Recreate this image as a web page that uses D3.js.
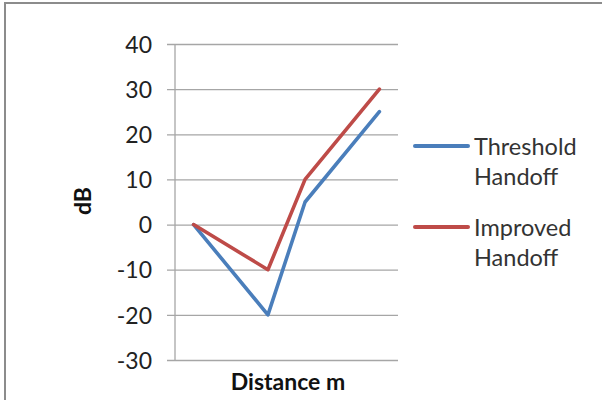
<!DOCTYPE html>
<html>
<head>
<meta charset="utf-8">
<script src="https://cdn.jsdelivr.net/npm/d3@7"></script>
<style>
  html, body { margin: 0; padding: 0; background: #fff; }
  svg { display: block; }
  text { font-family: Lato, "Open Sans", "Liberation Sans", sans-serif; fill: #222; }
</style>
</head>
<body>
<svg id="chart" width="602" height="400"></svg>
<script>
// Six distance slots; slots without a reading are left empty and the line bridges them.
const categories = ["1", "2", "3", "4", "5", "6"];
const thresholdHandoff = [0, null, -20, 5, null, 25];
const improvedHandoff = [0, null, -10, 10, null, 30];
const seriesNames = ["Threshold\nHandoff", "Improved\nHandoff"];
const seriesColors = ["#4A7EBB", "#BE4B48"];
const yTicks = [-30, -20, -10, 0, 10, 20, 30, 40];

const svg = d3.select("#chart");
const plot = { left: 175, right: 398, top: 44, bottom: 360 };

// Outer frame (top and left edges visible)
svg.append("path")
  .attr("d", `M5,400 V3 H602`)
  .attr("fill", "none")
  .attr("stroke", "#8c8c8c")
  .attr("stroke-width", 2);

const x = d3.scaleBand().domain(categories).range([plot.left, plot.right]);
const y = d3.scaleLinear().domain([-30, 40]).range([plot.bottom, plot.top]);

// Horizontal gridlines with outward ticks, via the axis generator
const yAxis = d3.axisLeft(y)
  .tickValues(yTicks)
  .tickSize(-(plot.right - plot.left) - 8)
  .tickFormat(d => String(d));

const gy = svg.append("g")
  .attr("transform", `translate(${plot.left - 8},0)`)
  .call(yAxis);
gy.select(".domain").remove();
gy.selectAll(".tick line")
  .attr("stroke", "#a6a6a6")
  .attr("stroke-width", 1.3);
gy.selectAll(".tick text")
  .attr("x", -15)
  .attr("dy", "0.36em")
  .style("font-size", "23px")
  .style("fill", "#222");

// Vertical axis line
svg.append("line")
  .attr("x1", plot.left).attr("x2", plot.left)
  .attr("y1", plot.top).attr("y2", plot.bottom)
  .attr("stroke", "#a6a6a6")
  .attr("stroke-width", 1.3);

// Series lines
const line = d3.line()
  .x(d => x(d.c) + x.bandwidth() / 2)
  .y(d => y(d.v));

[thresholdHandoff, improvedHandoff].forEach((vals, i) => {
  const pts = categories.map((c, k) => ({ c, v: vals[k] })).filter(d => d.v !== null);
  svg.append("path")
    .datum(pts)
    .attr("d", line)
    .attr("fill", "none")
    .attr("stroke", seriesColors[i])
    .attr("stroke-width", 3.6)
    .attr("stroke-linejoin", "round")
    .attr("stroke-linecap", "round");
});

// Axis titles
svg.append("text")
  .attr("x", 288)
  .attr("y", 390)
  .attr("text-anchor", "middle")
  .style("font-size", "23px")
  .style("font-weight", "bold")
  .style("fill", "#111")
  .text("Distance m");

svg.append("text")
  .attr("transform", `translate(91,201) rotate(-90)`)
  .attr("text-anchor", "middle")
  .style("font-size", "23px")
  .style("font-weight", "bold")
  .style("fill", "#111")
  .text("dB");

// Legend
const legendY = [146, 227];
seriesNames.forEach((name, i) => {
  const g = svg.append("g").attr("transform", `translate(0,${legendY[i]})`);
  g.append("line")
    .attr("x1", 415).attr("x2", 468)
    .attr("y1", 0).attr("y2", 0)
    .attr("stroke", seriesColors[i])
    .attr("stroke-width", 4)
    .attr("stroke-linecap", "round");
  name.split("\n").forEach((part, k) => {
    g.append("text")
      .attr("x", 474)
      .attr("y", 9 + k * 30)
      .style("font-size", "23.5px")
      .style("fill", "#333")
      .text(part);
  });
});
</script>
</body>
</html>
